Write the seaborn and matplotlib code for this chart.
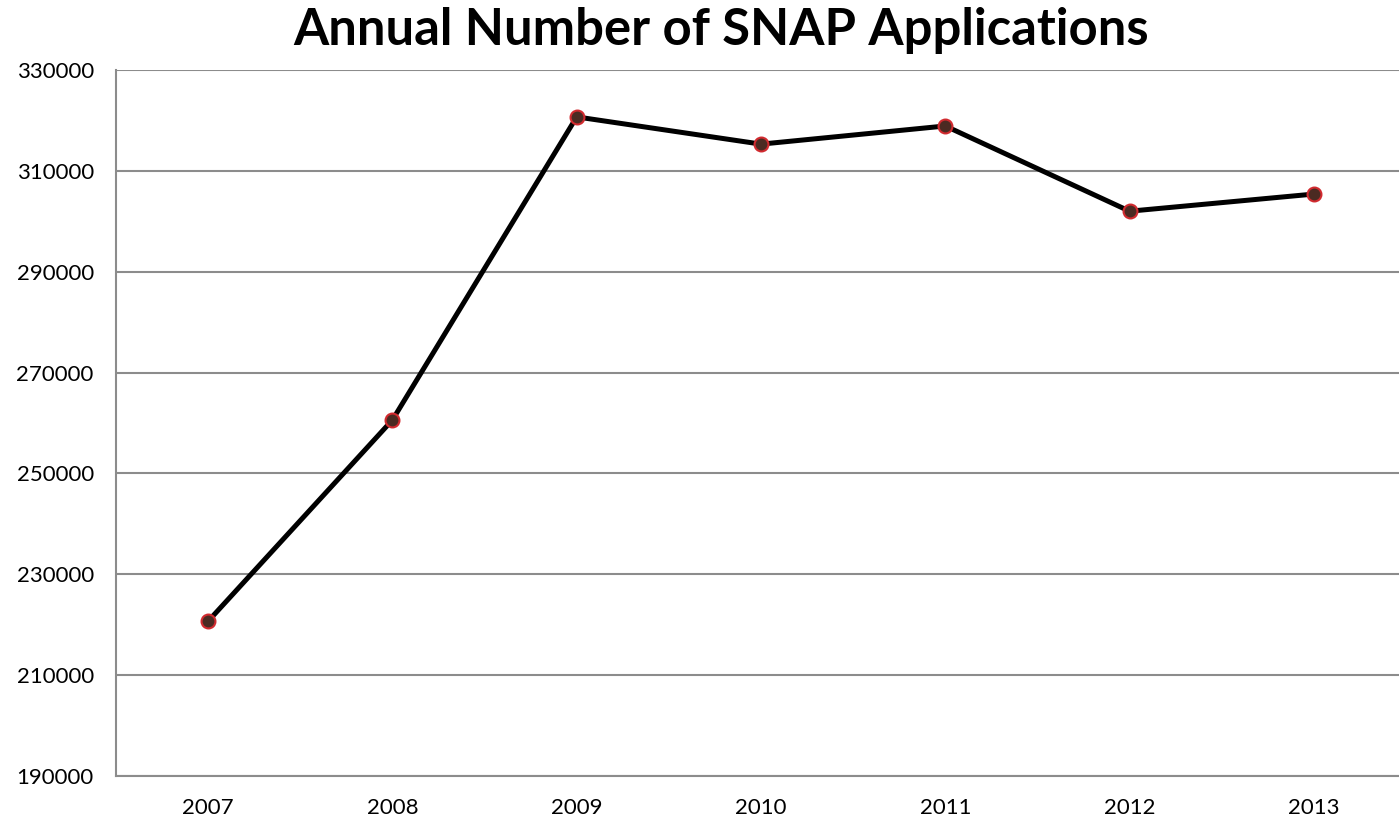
import matplotlib
matplotlib.use("Agg")
import matplotlib.pyplot as plt
import seaborn as sns
import pandas as pd
from matplotlib.ticker import FixedLocator

years = ["2007", "2008", "2009", "2010", "2011", "2012", "2013"]
applications = [220700, 260600, 320700, 315300, 318900, 302000, 305400]
y_ticks = [190000, 210000, 230000, 250000, 270000, 290000, 310000, 330000]

sns.set_style("white")
plt.rcParams['font.family'] = ['Lato', 'DejaVu Sans']
plt.rcParams['text.color'] = 'black'
plt.rcParams['xtick.labelcolor'] = 'black'
plt.rcParams['ytick.labelcolor'] = 'black'

df = pd.DataFrame({"pos": list(range(len(years))), "value": applications})

fig = plt.figure(figsize=(13.99, 8.23), dpi=100)
ax = fig.add_axes([116/1399, 47/823, 1290/1399, 706/823])

sns.lineplot(data=df, x="pos", y="value", ax=ax, color="black", linewidth=3.6,
             marker="o", markersize=10, markerfacecolor="#4b2a22",
             markeredgecolor="#d12a2f", markeredgewidth=1.5, zorder=3)

ax.set_xlim(-0.5, len(years) - 0.5)
ax.set_ylim(y_ticks[0], y_ticks[-1])
ax.set_yticks(y_ticks)
ax.set_yticklabels([str(t) for t in y_ticks], fontsize=16, color="black")
ax.set_xticks(range(len(years)))
ax.set_xticklabels(years, fontsize=16, color="black")
ax.xaxis.set_minor_locator(FixedLocator([i - 0.5 for i in range(len(years) + 1)]))
ax.tick_params(axis='x', which='major', length=0, pad=16)
ax.tick_params(axis='x', which='minor', length=8, color="#8c8c8c", width=1.5, direction='out')
ax.tick_params(axis='y', which='major', length=8, color="#8c8c8c", width=1.5, direction='out', pad=8)
ax.grid(axis='y', color="#8c8c8c", linewidth=1.5)
ax.set_axisbelow(True)
for s in ["top", "right"]:
    ax.spines[s].set_visible(False)
for s in ["left", "bottom"]:
    ax.spines[s].set_color("#8c8c8c")
    ax.spines[s].set_linewidth(1.5)
ax.set_xlabel("")
ax.set_ylabel("")

fig.text(721/1399, 1 - 30/823, "Annual Number of SNAP Applications", ha="center", va="center",
         fontsize=36.5, fontweight="bold", color="black")

fig.savefig("out.png", dpi=100)
